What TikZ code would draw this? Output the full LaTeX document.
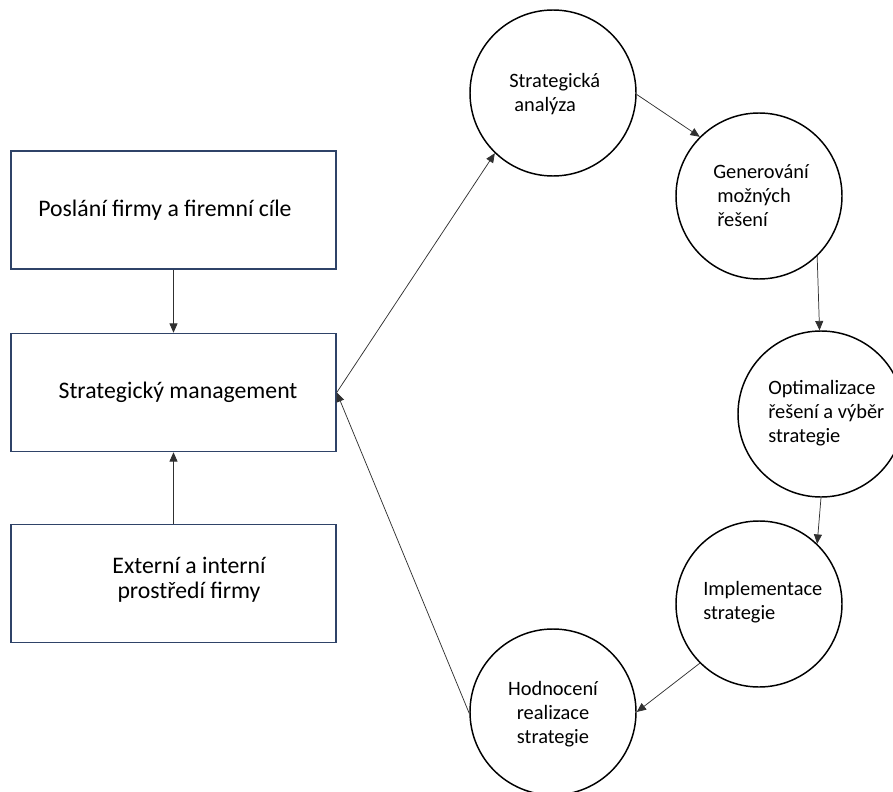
\documentclass[tikz,border=0pt]{standalone}
\usepackage{fontspec}
\setmainfont{Carlito}
\usetikzlibrary{arrows.meta}
\definecolor{boxline}{HTML}{2F4368}
\definecolor{arrowline}{HTML}{303030}
\begin{document}
\begin{tikzpicture}[x=0.75pt,y=-0.75pt,
  box/.style={draw=boxline, line width=1.1pt, minimum width=243.75pt, minimum height=88.5pt, inner sep=0pt},
  boxtext/.style={font=\fontsize{17.8}{18.75}\selectfont, align=center, inner sep=0pt},
  stage/.style={draw=black, circle, line width=1.1pt, minimum size=124.5pt, inner sep=0pt},
  stagetext/.style={font=\fontsize{15.3}{18}\selectfont, align=left, inner sep=0pt, anchor=west},
  flow/.style={draw=arrowline, line width=0.55pt, -{Triangle[length=7pt,width=6pt]}}]
\useasboundingbox (0,0) rectangle (893,792);

% left column: three boxes
\node[box] (b1) at (173.5,210) {};
\node[box] (b2) at (173.5,392.5) {};
\node[box] (b3) at (173.5,583.5) {};
\node[boxtext] (t1) at (165,210) {Poslání firmy a firemní cíle};
\node[boxtext] (t2) at (178,392) {Strategický management};
\node[boxtext] (t3) at (189,580) {Externí a interní\\prostředí firmy};

% process cycle
\node[stage] (c1) at (553,93) {};
\node[stage] (c2) at (759,196) {};
\node[stage] (c3) at (821,414) {};
\node[stage] (c4) at (759,604) {};
\node[stage] (c5) at (553,712) {};

\node[stagetext] (s1) at (509,94) {Strategická\\\hspace{3.75pt}analýza};
\node[stagetext] (s2) at (713,196) {Generování\\\hspace{3pt}možných\\\hspace{3pt}řešení};
\node[stagetext] (s3) at (768,413.5) {Optimalizace\\řešení a výběr\\strategie};
\node[stagetext] (s4) at (703,602) {Implementace\\strategie};
\node[stagetext, anchor=center, align=center] (s5) at (553,714) {Hodnocení\\realizace\\strategie};

% connectors
\draw[flow] (b1.south) -- (b2.north);
\draw[flow] (b3.north) -- (b2.south);
\draw[flow] (b2.east) -- (c1.226);
\draw[flow] (c1.-1) -- (c2.135);
\draw[flow] (c2.-46) -- (c3.91);
\draw[flow] (c3.south) -- (c4.46);
\draw[flow] (c4.225) -- (c5.0);
\draw[flow] (c5.181) -- (b2.east);
\end{tikzpicture}
\end{document}
